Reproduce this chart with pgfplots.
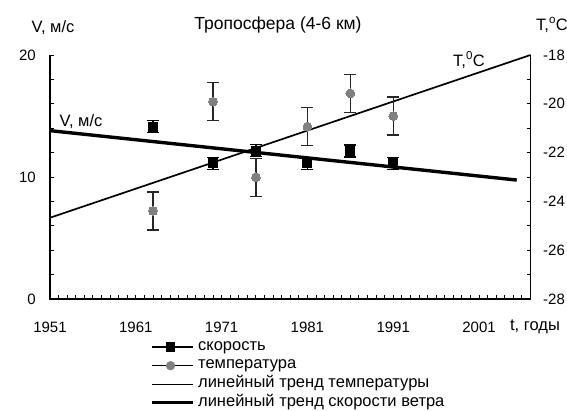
\documentclass[border=0pt]{standalone}
\usepackage{fontspec}
\setmainfont{Liberation Sans}
\usepackage{pgfplots}
\pgfplotsset{compat=1.18}
\definecolor{mgray}{RGB}{128,128,128}
\newcommand{\tickfont}{\fontsize{15}{18}\selectfont}
\newcommand{\txtfont}{\fontsize{16.5}{19}\selectfont}
\pgfplotsset{
  common/.style={
    scale only axis, width=480.5pt, height=244pt,
    at={(50pt,111pt)}, anchor=south west,
    xmin=1951, xmax=2007,
    axis line style={draw=none},
    tick align=inside,
    major tick length=4pt, minor tick length=4pt,
    tick style={black, line width=0.9pt},
    minor tick style={black, line width=0.9pt},
    /pgf/number format/assume math mode=true,
    /pgf/number format/1000 sep={},
    clip=false,
  },
  marklegend/.style={legend image code/.code={\draw[mark repeat=2, mark phase=2, ##1] plot coordinates {(0pt,0pt) (19pt,0pt) (41pt,0pt)};}},
  linelegend/.style={legend image code/.code={\draw[##1] (0pt,0pt) -- (41pt,0pt);}},
}
\begin{document}
\begin{tikzpicture}
\useasboundingbox (0,0) rectangle (567pt,410pt);
% temperature axis (right)
\begin{axis}[common,
  xtick=\empty, minor xtick={},
  ytick pos=right, yticklabel pos=right,
  ymin=-28, ymax=-18,
  ytick={-28,-26,...,-18}, minor ytick={-27,-25,...,-19},
  yticklabel style={anchor=west, inner sep=0pt, xshift=12.5pt, font=\tickfont},
]
\addplot[black, line width=1.7pt] coordinates {(1951,-24.67) (2007,-18.0)};
\addplot[only marks, mark=*, mark size=4.4pt, mgray, mark options={fill=mgray, draw=mgray, line width=0pt},
  error bars/.cd, y dir=both, y explicit,
  error bar style={line width=1.3pt, black!85},
  error mark options={rotate=90, line width=1.3pt, mark size=6pt, black!85}]
  coordinates {
  (1963,-24.39) +- (0,0.78)
  (1970,-19.91) +- (0,0.78)
  (1975,-23.01) +- (0,0.78)
  (1981,-20.94) +- (0,0.78)
  (1986,-19.57) +- (0,0.78)
  (1991,-20.50) +- (0,0.78)
  };
\end{axis}
% speed axis (left) with x axis
\begin{axis}[common,
  xtick pos=left, ytick pos=left,
  ymin=0, ymax=20,
  xtick={1951,1961,...,2001}, minor xtick={1952,1953,...,2006},
  ytick={0,10,20}, minor ytick={2,4,...,18},
  xticklabel style={anchor=north, inner sep=0pt, yshift=-22.5pt, font=\tickfont},
  yticklabel style={anchor=east, inner sep=0pt, xshift=-14pt, font=\tickfont},
  legend style={at={(axis description cs:0.208,-0.159)}, anchor=north west,
    draw=none, fill=none, inner sep=0pt, outer sep=0pt, row sep=0pt, column sep=4pt,
    font=\txtfont, cells={anchor=west},
    nodes={inner sep=0pt, text height=12.5pt, text depth=6.1pt}},
]
\draw[black, line width=1.1pt, line join=miter] (rel axis cs:0,1) -- (rel axis cs:0,0) -- (rel axis cs:1,0) -- (rel axis cs:1,1);
\addplot[black, line width=3.4pt, forget plot] coordinates {(1951,13.80) (2005.4,9.75)};
\addplot[only marks, mark=square*, mark size=4.5pt, black, mark options={fill=black, line width=0pt}, forget plot,
  error bars/.cd, y dir=both, y explicit,
  error bar style={line width=1.3pt, black},
  error mark options={rotate=90, line width=1.3pt, mark size=6pt, black}]
  coordinates {
  (1963,14.12) +- (0,0.5)
  (1970,11.12) +- (0,0.5)
  (1975,12.16) +- (0,0.5)
  (1981,11.12) +- (0,0.5)
  (1986,12.13) +- (0,0.5)
  (1991,11.12) +- (0,0.5)
  };
\addlegendimage{black, line width=1.2pt, mark=square*, mark options={solid, fill=black, draw=black, mark size=4pt}, marklegend}
\addlegendentry{скорость}
\addlegendimage{black, line width=1.2pt, mark=*, mark options={solid, fill=mgray, draw=mgray, mark size=4pt}, marklegend}
\addlegendentry{температура}
\addlegendimage{black, line width=1.3pt, linelegend}
\addlegendentry{линейный тренд температуры}
\addlegendimage{black, line width=3.2pt, linelegend}
\addlegendentry{линейный тренд скорости ветра}
\end{axis}
\node[font=\fontsize{17.5}{20}\selectfont] at (278pt,385pt) {Тропосфера (4-6 км)};
\node[font=\txtfont] at (53pt,382pt) {V, м/с};
\node[font=\txtfont] at (552pt,385pt) {T,\textsuperscript{o}C};
\node[font=\txtfont] at (469pt,350pt) {T,\textsuperscript{0}C};
\node[font=\txtfont] at (81pt,288pt) {V, м/с};
\node[font=\txtfont] at (535pt,83pt) {t, годы};
\end{tikzpicture}
\end{document}
